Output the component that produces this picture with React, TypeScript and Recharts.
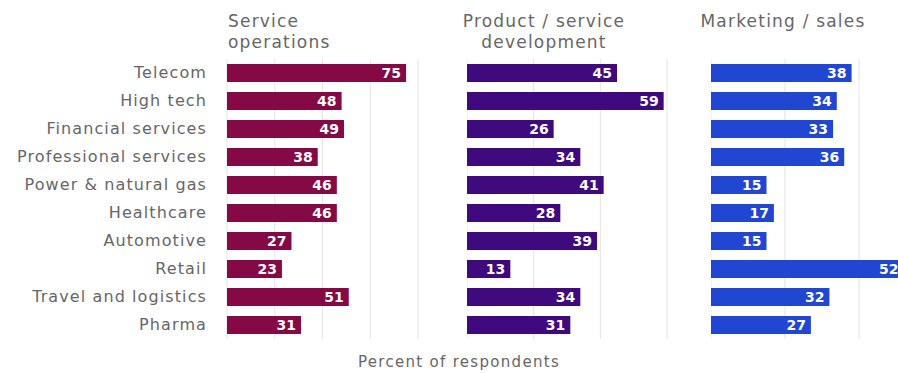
import { BarChart, Bar, XAxis, YAxis, CartesianGrid, LabelList } from 'recharts';

const categories = [
  'Telecom',
  'High tech',
  'Financial services',
  'Professional services',
  'Power & natural gas',
  'Healthcare',
  'Automotive',
  'Retail',
  'Travel and logistics',
  'Pharma',
];
const serviceOps = [75, 48, 49, 38, 46, 46, 27, 23, 51, 31];
const productDev = [45, 59, 26, 34, 41, 28, 39, 13, 34, 31];
const marketing = [38, 34, 33, 36, 15, 17, 15, 52, 32, 27];

const rows = categories.map((name, i) => ({
  name,
  ops: serviceOps[i],
  dev: productDev[i],
  mkt: marketing[i],
}));

const FONT = '"DejaVu Sans", sans-serif';
const GRID = '#e4e4e4';
const TEXT = '#666';

const valueLabel = { fill: '#fff', fontSize: 14, fontWeight: 700, fontFamily: FONT };

interface PanelProps {
  left: number;
  width: number;
  dataKey: string;
  color: string;
  max: number;
  withCategories?: boolean;
}

function Panel({ left, width, dataKey, color, max, withCategories }: PanelProps) {
  const ticks = [];
  for (let t = 0; t <= max; t += 20) ticks.push(t);
  return (
    <div style={{ position: 'absolute', left, top: 59 }}>
      <BarChart
        width={width}
        height={280}
        data={rows}
        layout="vertical"
        barCategoryGap={5}
        margin={{ top: 0, right: 2, bottom: 0, left: 0 }}
      >
        <CartesianGrid horizontal={false} stroke={GRID} />
        <XAxis type="number" domain={[0, max]} ticks={ticks} hide />
        <YAxis
          type="category"
          dataKey="name"
          hide={!withCategories}
          width={withCategories ? 227 : 0}
          axisLine={false}
          tickLine={false}
          tickSize={0}
          tickMargin={20}
          tick={{ fill: TEXT, fontSize: 16, fontFamily: FONT, letterSpacing: 1.1, dy: -1 }}
          interval={0}
        />
        <Bar dataKey={dataKey} fill={color} isAnimationActive={false}>
          <LabelList dataKey={dataKey} position="insideRight" offset={5} style={valueLabel} />
        </Bar>
      </BarChart>
    </div>
  );
}

const titleStyle: React.CSSProperties = {
  position: 'absolute',
  color: TEXT,
  fontFamily: FONT,
  fontSize: 17,
  letterSpacing: 1.2,
  lineHeight: '21px',
  whiteSpace: 'nowrap',
};

export default function App() {
  return (
    <div
      style={{
        position: 'fixed',
        left: 0,
        top: 0,
        width: 898,
        height: 373,
        overflow: 'hidden',
        background: '#fff',
      }}
    >
      <div style={{ ...titleStyle, left: 228, top: 11 }}>
        Service
        <br />
        operations
      </div>
      <div style={{ ...titleStyle, left: 444, width: 200, top: 11, textAlign: 'center' }}>
        Product / service
        <br />
        development
      </div>
      <div style={{ ...titleStyle, left: 683, width: 200, top: 11, textAlign: 'center' }}>
        Marketing / sales
      </div>

      <Panel left={0} width={420} dataKey="ops" color="#850944" max={80} withCategories />
      <Panel left={467} width={202} dataKey="dev" color="#3e0a7e" max={60} />
      <Panel left={711} width={224} dataKey="mkt" color="#2146d2" max={60} />

      <div
        style={{
          position: 'absolute',
          left: 259,
          width: 400,
          top: 354,
          textAlign: 'center',
          color: TEXT,
          fontFamily: FONT,
          fontSize: 15,
          lineHeight: '16px',
          letterSpacing: 1.3,
        }}
      >
        Percent of respondents
      </div>
    </div>
  );
}
